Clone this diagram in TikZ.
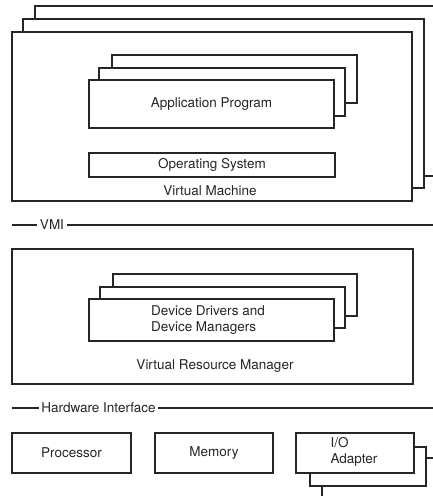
\documentclass[tikz,border=0pt]{standalone}
\usepackage{fontspec}
\setmainfont{TeX Gyre Heros}
\begin{document}
\begin{tikzpicture}[x=1pt,y=-1pt,
  box/.style={draw=black!85, line width=1.6pt, fill=white, rectangle, inner sep=0pt, outer sep=0pt, anchor=north west},
  lbl/.style={font=\fontsize{13.5}{16}\selectfont, text=black!85, inner sep=1pt, align=center},
  rulelbl/.style={lbl, inner sep=2.5pt},
  hline/.style={draw=black!85, line width=1.6pt}]
\useasboundingbox (0,0) rectangle (433,496);
\clip (0,0) rectangle (433,496);
% Virtual machine stack
\node[box, minimum width=401pt, minimum height=170pt] (vm3) at (35,6) {};
\node[box, minimum width=401pt, minimum height=169pt] (vm2) at (23,19) {};
\node[box, minimum width=400pt, minimum height=169pt] (vm1) at (12,32) {};
% Application program stack
\node[box, minimum width=245pt, minimum height=48pt] (ap3) at (112,55) {};
\node[box, minimum width=246pt, minimum height=48pt] (ap2) at (99,68) {};
\node[box, minimum width=245pt, minimum height=48pt] (ap1) at (89,80) {};
\node[lbl] (apT) at (ap1.center) {Application Program};
% Operating system
\node[box, minimum width=246pt, minimum height=24pt] (os) at (89,153) {};
\node[lbl] (osT) at (os.center) {Operating System};
\node[lbl] (vmT) at (210,191) {Virtual Machine};
% VMI rule
\node[rulelbl] (vmi) at (52,225) {VMI};
\coordinate (vmiL) at (12,225);
\coordinate (vmiR) at (440,225);
\draw[hline] (vmiL) -- (vmi.west);
\draw[hline] (vmi.east) -- (vmiR);
% Virtual resource manager
\node[box, minimum width=401pt, minimum height=135pt] (vrm) at (12,249) {};
\node[box, minimum width=244pt, minimum height=42pt] (dd3) at (113,274) {};
\node[box, minimum width=245pt, minimum height=41pt] (dd2) at (100,287) {};
\node[box, minimum width=245pt, minimum height=42pt] (dd1) at (89,299) {};
\node[lbl, align=left] (ddT) at (208,320) {Device Drivers and\\Device Managers};
\node[lbl] (vrmT) at (215,366) {Virtual Resource Manager};
% Hardware interface rule
\node[rulelbl] (hw) at (98.5,408) {Hardware Interface};
\coordinate (hwL) at (12,408);
\coordinate (hwR) at (440,408);
\draw[hline] (hwL) -- (hw.west);
\draw[hline] (hw.east) -- (hwR);
% Hardware
\node[box, minimum width=119pt, minimum height=40pt] (proc) at (12,433) {};
\node[lbl] (procT) at (proc.center) {Processor};
\node[box, minimum width=118pt, minimum height=40pt] (mem) at (155,433) {};
\node[lbl] (memT) at (mem.center) {Memory};
\node[box, minimum width=116pt, minimum height=50pt] (io3) at (322,458) {};
\node[box, minimum width=116pt, minimum height=39pt] (io2) at (310,447) {};
\node[box, minimum width=118pt, minimum height=40pt] (io1) at (296,433) {};
\node[lbl, align=left] (ioT) at (354,452) {I/O\\Adapter};
\end{tikzpicture}
\end{document}
